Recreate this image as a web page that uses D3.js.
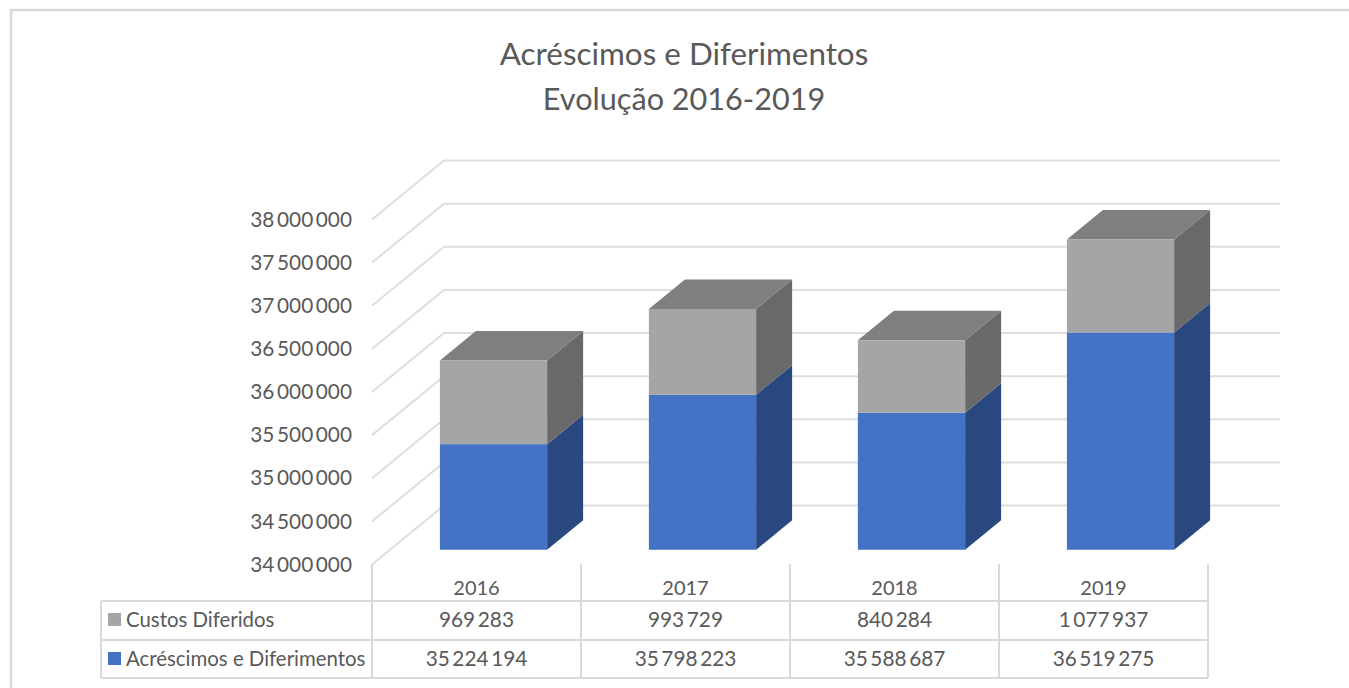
<!DOCTYPE html>
<html>
<head>
<meta charset="utf-8">
<script src="https://cdn.jsdelivr.net/npm/d3@7"></script>
<style>
  html, body { margin: 0; padding: 0; background: #fff; overflow: hidden; }
  text { font-family: Lato, "Open Sans", sans-serif; fill: #595959; }
</style>
</head>
<body>
<div id="chart"></div>
<script>
const years = ["2016", "2017", "2018", "2019"];
const custos = [969283, 993729, 840284, 1077937];
const acrescimos = [35224194, 35798223, 35588687, 36519275];
const yTicks = [34000000, 34500000, 35000000, 35500000, 36000000, 36500000, 37000000, 37500000, 38000000];
const titleLines = ["Acréscimos e Diferimentos", "Evolução 2016-2019"];
const seriesNames = ["Custos Diferidos", "Acréscimos e Diferimentos"];

const width = 1349, height = 688;
const grey = "#d9d9d9";

// depth of the 3D box
const depthX = 72, depthY = -59;

const svg = d3.select("#chart")
    .append("svg")
    .attr("width", width)
    .attr("height", height);

const fmt = d3.formatLocale({ thousands: "\u2009", grouping: [3], decimal: ",", currency: ["", ""] }).format(",d");

const xScale = d3.scaleBand()
    .domain(years)
    .range([372, 1208])
    .paddingInner(0.487)
    .paddingOuter(0.2435);

const yScale = d3.scaleLinear()
    .domain([34000000, 38000000])
    .range([564.5, 219.5]);

// outer frame
svg.append("path")
    .attr("d", "M11,688V10H1349")
    .attr("fill", "none")
    .attr("stroke", grey)
    .attr("stroke-width", 2.5);

// title, digits run wider in this font so the second line is a touch smaller
svg.append("g").selectAll("text")
    .data(titleLines)
    .join("text")
    .attr("x", 684)
    .attr("y", (d, i) => 65 + i * 45)
    .attr("text-anchor", "middle")
    .attr("font-size", (d, i) => i ? 30.6 : 31.4)
    .text(d => d);

// gridlines, side wall then back wall
svg.append("g").selectAll("path")
    .data(yTicks)
    .join("path")
    .attr("fill", "none")
    .attr("stroke", "#dedede")
    .attr("stroke-width", 2)
    .attr("d", d => `M372,${yScale(d)}L${372 + depthX},${yScale(d) + depthY}H1280`);

// y axis labels
const yAxis = svg.append("g")
    .attr("transform", "translate(352,0)")
    .call(d3.axisLeft(yScale).tickValues(yTicks).tickSize(0).tickPadding(0).tickFormat(fmt));
yAxis.select(".domain").remove();
yAxis.selectAll("text").attr("font-size", 20.8).attr("font-family", null);

// stacked 3D bars
const stacked = d3.stack().keys(["acrescimos", "custos"])(
    years.map((y, i) => ({ year: y, acrescimos: acrescimos[i], custos: custos[i] }))
);
const barColors = [
    { front: "#4472c4", side: "#2a4880", top: "#345a9c" },
    { front: "#a5a5a5", side: "#696969", top: "#7f7f7f" }
];
// bars sit a quarter of the way into the box and take up half of its depth
const offX = depthX * 0.25 - 1, offY = depthY * 0.25;
const barDX = depthX * 0.5, barDY = depthY * 0.5;

const layers = svg.append("g").selectAll("g")
    .data(stacked)
    .join("g");

layers.each(function (layer, k) {
    const g = d3.select(this);
    const c = barColors[k];
    layer.forEach(d => {
        const x0 = xScale(d.data.year) + offX;
        const x1 = x0 + xScale.bandwidth();
        const yb = yScale(Math.max(d[0], 34000000)) + offY;
        const yt = yScale(d[1]) + offY;
        g.append("path")
            .attr("fill", c.side)
            .attr("d", `M${x1},${yb}L${x1 + barDX},${yb + barDY}V${yt + barDY}L${x1},${yt}Z`);
        if (k === stacked.length - 1) {
            g.append("path")
                .attr("fill", c.top)
                .attr("d", `M${x0},${yt}L${x0 + barDX},${yt + barDY}H${x1 + barDX}L${x1},${yt}Z`);
        }
        g.append("rect")
            .attr("x", x0)
            .attr("y", yt)
            .attr("width", x1 - x0)
            .attr("height", yb - yt)
            .attr("fill", c.front);
    });
});

// data table below the chart
const table = svg.append("g");
const colEdges = xScale.domain().map((d, i) => 372 + i * xScale.step()).concat([1208]);
const rowY = [601, 640, 678];

table.selectAll("line.col")
    .data(colEdges)
    .join("line")
    .attr("class", "col")
    .attr("x1", d => d).attr("x2", d => d)
    .attr("y1", 564).attr("y2", 678)
    .attr("stroke", grey).attr("stroke-width", 2);

table.selectAll("line.row")
    .data(rowY)
    .join("line")
    .attr("class", "row")
    .attr("x1", 101).attr("x2", 1208)
    .attr("y1", d => d).attr("y2", d => d)
    .attr("stroke", grey).attr("stroke-width", 2);

table.append("line")
    .attr("x1", 101).attr("x2", 101)
    .attr("y1", 601).attr("y2", 678)
    .attr("stroke", grey).attr("stroke-width", 2);

const cx = d => xScale(d) + xScale.bandwidth() / 2;

table.selectAll("text.year")
    .data(years)
    .join("text")
    .attr("class", "year")
    .attr("x", cx)
    .attr("y", 595)
    .attr("text-anchor", "middle")
    .attr("font-size", 20)
    .text(d => d);

[custos, acrescimos].forEach((vals, r) => {
    table.selectAll("text.r" + r)
        .data(vals)
        .join("text")
        .attr("class", "r" + r)
        .attr("x", (d, i) => cx(years[i]))
        .attr("y", rowY[r] + 26)
        .attr("text-anchor", "middle")
        .attr("font-size", 20.8)
        .text(fmt);
});

seriesNames.forEach((name, r) => {
    table.append("rect")
        .attr("x", 108).attr("y", rowY[r] + 12)
        .attr("width", 13).attr("height", 13)
        .attr("fill", barColors[1 - r].front);
    table.append("text")
        .attr("x", 126).attr("y", rowY[r] + 26)
        .attr("font-size", 20.4)
        .text(name);
});
</script>
</body>
</html>
